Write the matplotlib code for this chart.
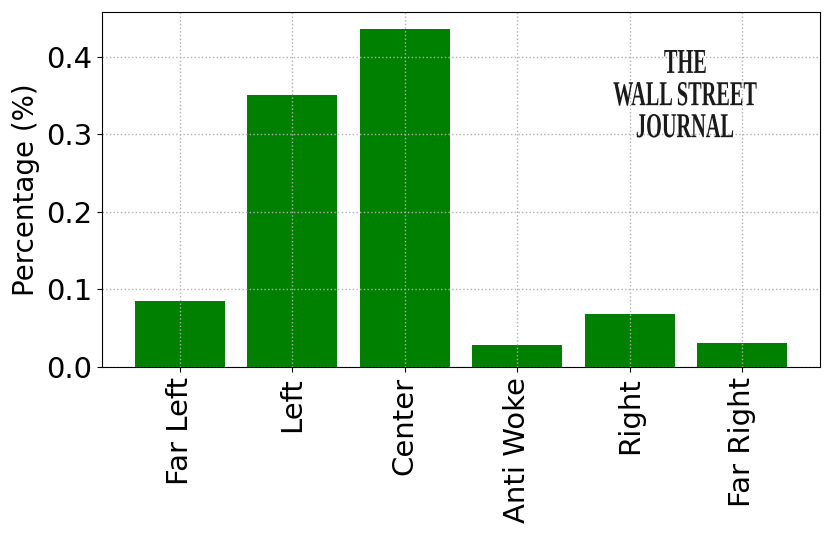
import matplotlib
matplotlib.use("Agg")
import matplotlib.pyplot as plt
from matplotlib.textpath import TextPath
from matplotlib.patches import PathPatch
from matplotlib.font_manager import FontProperties
from matplotlib.transforms import Affine2D

# ------------ data ------------
categories = ["Far Left", "Left", "Center", "Anti Woke", "Right", "Far Right"]
percentages = [0.085, 0.351, 0.436, 0.028, 0.068, 0.031]

logo_lines = ["THE", "WALL STREET", "JOURNAL"]

# ------------ plotting ------------
fig, ax = plt.subplots(figsize=(8.3, 5.35), dpi=100)
plt.subplots_adjust(left=0.1229, right=0.988, top=0.9776, bottom=0.314)

ax.bar(categories, percentages, color="green")
ax.set_ylabel("Percentage (%)", fontsize=20)
ax.tick_params(axis="both", which="major", labelsize=21)
ax.tick_params(axis="x", labelrotation=90)
ax.grid(True, linestyle=":", color="#b0b0b0", linewidth=1)

# logo, drawn as squeezed text paths (condensed serif look)
logo_font = FontProperties(family="Liberation Serif", weight="bold")
logo_cx, logo_top, line_step = 685, 50, 32   # pixels
for i, line in enumerate(logo_lines):
    tp = TextPath((0, 0), line, size=35, prop=logo_font)
    ext = tp.get_extents()
    sx = 0.58
    w = (ext.x1 - ext.x0) * sx
    x0 = logo_cx - w / 2 - ext.x0 * sx
    y0 = 535 - (logo_top + i * line_step) - ext.y1
    tr = Affine2D().scale(sx / 100, 1 / 100).translate(x0 / 100, y0 / 100) + fig.dpi_scale_trans
    fig.patches.append(PathPatch(tp, transform=tr, facecolor="#1a1a1a", edgecolor="none", figure=fig))

fig.savefig("out.png", dpi=100)
